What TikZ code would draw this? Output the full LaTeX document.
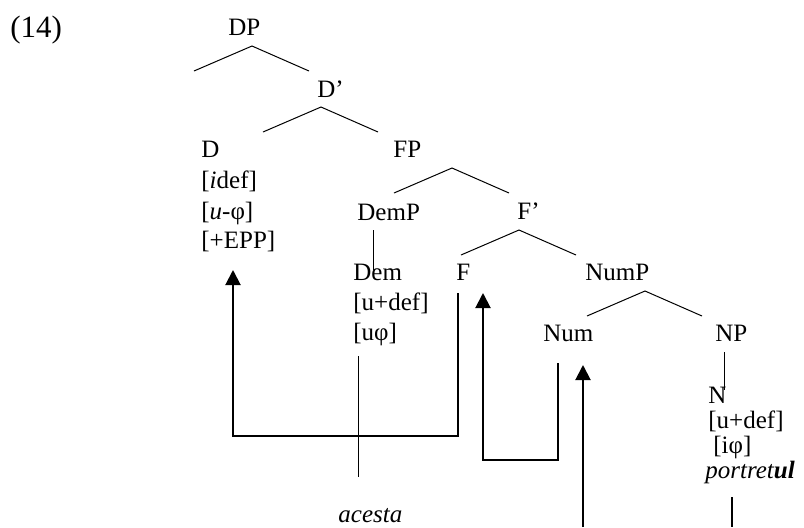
\documentclass[tikz,border=0pt]{standalone}
\usepackage{fontspec}
\setmainfont{Liberation Serif}
\usetikzlibrary{arrows.meta}

\tikzset{
  lbl/.style={anchor=base west, inner sep=0pt, font=\fontsize{12.5}{15}\selectfont},
  branch/.style={line width=0.5pt},
  move/.style={line width=1pt, -{Triangle[width=7.5pt,length=7.5pt]}},
}

\begin{document}
\begin{tikzpicture}[x=0.5pt, y=-0.5pt]
  \useasboundingbox (0,0) rectangle (804,527);

  % labels
  \node[lbl, font=\fontsize{15.5}{18}\selectfont] (ex) at (10,37) {(14)};
  \node[lbl] (dp) at (228,35) {DP};
  \node[lbl] (dbar) at (317,97) {D’};
  \node[lbl] (d) at (201,157) {D};
  \node[lbl] (didef) at (201,188) {[\textit{i}def]};
  \node[lbl] (dphi) at (201,219) {[\textit{u}-φ]};
  \node[lbl] (depp) at (201,248) {[+EPP]};
  \node[lbl] (fp) at (393,157) {FP};
  \node[lbl] (demp) at (357,220) {DemP};
  \node[lbl] (fbar) at (517,219) {F’};
  \node[lbl] (dem) at (353,280) {Dem};
  \node[lbl] (demdef) at (353,310) {[u+def]};
  \node[lbl] (demphi) at (353,340) {[uφ]};
  \node[lbl] (f) at (456,280) {F};
  \node[lbl] (nump) at (585,280) {NumP};
  \node[lbl] (num) at (543,341) {Num};
  \node[lbl] (np) at (715,341) {NP};
  \node[lbl] (n) at (708,403) {N};
  \node[lbl] (ndef) at (708,428) {[u+def]};
  \node[lbl] (nphi) at (713,453) {[iφ]};
  \node[lbl] (nword) at (705,478) {\textit{portret\textbf{ul}}};
  \node[lbl] (acesta) at (338,522) {\textit{acesta}};

  % branching points
  \coordinate (dpfork) at (252,46);
  \coordinate (dbarfork) at (321,107);
  \coordinate (fpfork) at (452,168);
  \coordinate (fbarfork) at (519,230);
  \coordinate (numpfork) at (645,291);
  \foreach \apex in {dpfork,dbarfork,fpfork,fbarfork,numpfork}
    \draw[branch] (\apex) ++(-58,25) -- (\apex) -- ++(57,25);

  % unary branches
  \coordinate (demtop) at (373,230);
  \coordinate (demlow) at (373,270);
  \draw[branch] (demtop) -- (demlow);
  \coordinate (nptop) at (724,352);
  \coordinate (nplow) at (724,390);
  \draw[branch] (nptop) -- (nplow);

  % lexical items
  \coordinate (demfoot) at (358,356);
  \coordinate (acestatop) at (358,477);
  \draw[branch] (demfoot) -- (acestatop);
  \coordinate (nfoot) at (732,497);
  \coordinate (nbottom) at (732,527);
  \draw[line width=0.75pt] (nfoot) -- (nbottom);

  % movement
  \coordinate (fstart) at (458,293);
  \coordinate (dtip) at (233,270);
  \draw[move] (fstart) -- ++(0,143) -| (dtip);
  \coordinate (numstart) at (558,363);
  \coordinate (ftip) at (483,293);
  \draw[move] (numstart) -- ++(0,97) -| (ftip);
  \coordinate (nstart) at (583,527);
  \coordinate (numtip) at (583,365);
  \draw[move] (nstart) -- (numtip);
\end{tikzpicture}
\end{document}
